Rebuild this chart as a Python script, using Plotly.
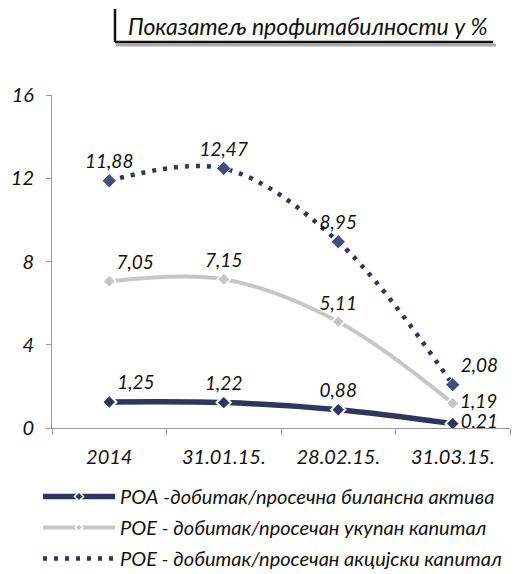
import plotly.graph_objects as go

categories = ["2014", "31.01.15.", "28.02.15.", "31.03.15."]
roa = [1.25, 1.22, 0.88, 0.21]
roe_total = [7.05, 7.15, 5.11, 1.19]
roe_share = [11.88, 12.47, 8.95, 2.08]
names = [
    "РОА -добитак/просечна билансна актива",
    "РОЕ - добитак/просечан укупан капитал",
    "РОЕ - добитак/просечан акцијски капитал",
]
title_text = "Показатељ профитабилности у %"
y_ticks = [0, 4, 8, 12, 16]

NAVY = "#2f355f"
GRAY = "#c6c6c6"
FONT = "Lato"
LABEL_SIZE = 19

def fmt(v):
    return f"{v:.2f}".replace(".", ",")

fig = go.Figure()

roa_line = dict(color=NAVY, width=5.5, shape="spline", smoothing=1)
roa_marker = dict(symbol="diamond", size=11, color=NAVY, line=dict(color="white", width=2))
tot_line = dict(color=GRAY, width=4, shape="spline", smoothing=1)
tot_marker = dict(symbol="diamond", size=10, color=GRAY, line=dict(color="white", width=1.5))
sh_line = dict(color=NAVY, width=4.5, shape="spline", smoothing=1, dash="4px,7px")
sh_marker = dict(symbol="diamond", size=11, color="#474c78", line=dict(color="white", width=1))

fig.add_trace(go.Scatter(
    x=categories, y=roa, name=names[0], mode="lines+markers+text", showlegend=False,
    line=roa_line, marker=roa_marker,
    text=[fmt(v) for v in roa],
    textposition=["top right", "top center", "top center", "middle right"],
    textfont=dict(family=FONT, size=LABEL_SIZE, color="#111", style="italic"),
))
fig.add_trace(go.Scatter(
    x=categories, y=roe_total, name=names[1], mode="lines+markers+text", showlegend=False,
    line=tot_line, marker=tot_marker,
    text=[fmt(v) for v in roe_total],
    textposition=["top right", "top center", "top center", "middle right"],
    textfont=dict(family=FONT, size=LABEL_SIZE, color="#111", style="italic"),
))
fig.add_trace(go.Scatter(
    x=categories, y=roe_share, name=names[2], mode="lines+markers+text", showlegend=False,
    line=sh_line, marker=sh_marker,
    text=[fmt(v) for v in roe_share],
    textposition=["top center", "top center", "top center", "top right"],
    textfont=dict(family=FONT, size=LABEL_SIZE, color="#111", style="italic"),
))

# legend entries
fig.add_trace(go.Scatter(x=[None], y=[None], name=names[0], mode="lines+markers",
                         legendgroup="a", line=roa_line,
                         marker=dict(symbol="diamond", size=7, color=NAVY,
                                     line=dict(color="white", width=1.5))))
fig.add_trace(go.Scatter(x=[None], y=[None], name=names[1], mode="lines+markers",
                         legendgroup="b", line=tot_line,
                         marker=dict(symbol="diamond", size=6, color=GRAY,
                                     line=dict(color="white", width=1.5))))
fig.add_trace(go.Scatter(x=[None], y=[None], name=names[2], mode="lines",
                         legendgroup="c", line=sh_line))

L, R, T, B = 52, 7, 95, 146
W, H = 517, 574
pw, ph = W - L - R, H - T - B

def px(x):
    return (x - L) / pw

def py(y):
    return (H - B - y) / ph

# title box
fig.add_shape(type="line", xref="paper", yref="paper",
              x0=px(116), x1=px(496), y0=py(45), y1=py(45),
              line=dict(color="#aaaaaa", width=3))
fig.add_shape(type="line", xref="paper", yref="paper",
              x0=px(115), x1=px(493), y0=py(42), y1=py(42),
              line=dict(color="#111", width=2.5))
fig.add_shape(type="line", xref="paper", yref="paper",
              x0=px(115), x1=px(115), y0=py(9), y1=py(42),
              line=dict(color="#111", width=2.5))
fig.add_annotation(xref="paper", yref="paper", x=px(126), y=py(26),
                   xanchor="left", yanchor="middle", showarrow=False,
                   text=f"<i>{title_text}</i>",
                   font=dict(family=FONT, size=23, color="#111"))

fig.update_layout(
    width=W, height=H,
    margin=dict(l=L, r=R, t=T, b=B, autoexpand=False),
    paper_bgcolor="white", plot_bgcolor="white",
    font=dict(family=FONT, size=20, color="#111", style="italic"),
    showlegend=True,
    legend=dict(x=px(38), y=py(477), xanchor="left", yanchor="top",
                itemwidth=72, tracegroupgap=2,
                font=dict(family=FONT, size=20, color="#111", style="italic"),
                bgcolor="rgba(0,0,0,0)"),
    xaxis=dict(range=[-0.5, 3.5], showline=True, linecolor="#999", linewidth=1,
               ticks="outside", ticklen=6, tickcolor="#999",
               tickson="boundaries", showgrid=False, ticklabelstandoff=11,
               tickfont=dict(family=FONT, size=20, color="#111", style="italic")),
    yaxis=dict(range=[0, 16], tickvals=y_ticks, showline=True, linecolor="#999",
               linewidth=1, ticks="outside", ticklen=5, tickcolor="#999",
               showgrid=False, zeroline=False, ticklabelstandoff=8,
               tickfont=dict(family=FONT, size=20, color="#111", style="italic")),
)

fig.write_html("out.html", config={"displayModeBar": False})
with open("out.html", encoding="utf-8") as f:
    html = f.read()
html = html.replace("<head>", "<head><style>html,body{margin:0;padding:0;}</style>", 1)
with open("out.html", "w", encoding="utf-8") as f:
    f.write(html)
